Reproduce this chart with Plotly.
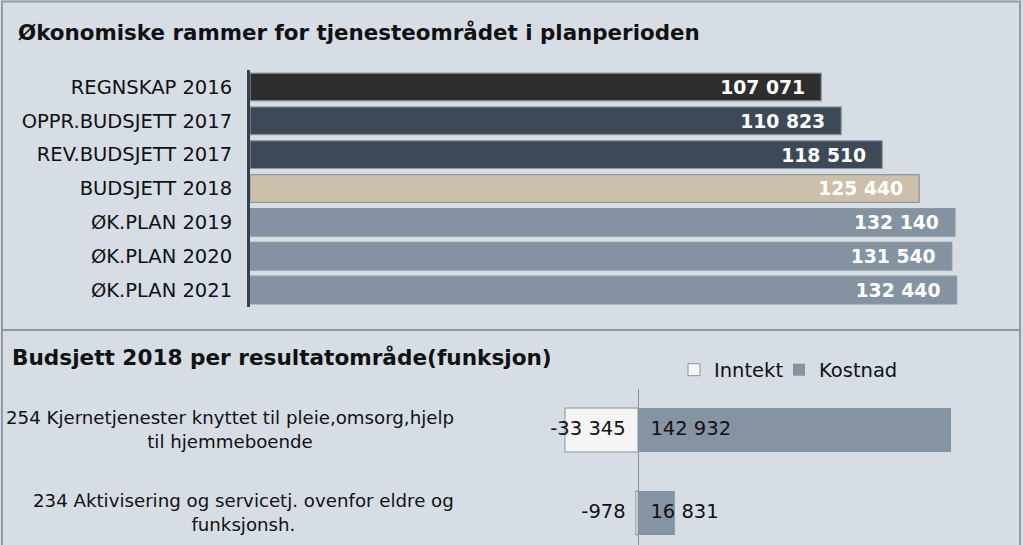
import plotly.graph_objects as go

# ---- data ----
top_categories = ["REGNSKAP 2016", "OPPR.BUDSJETT 2017", "REV.BUDSJETT 2017",
                  "BUDSJETT 2018", "ØK.PLAN 2019", "ØK.PLAN 2020", "ØK.PLAN 2021"]
top_values = [107071, 110823, 118510, 125440, 132140, 131540, 132440]
top_colors = ["#2e2e2e", "#3e4958", "#3e4958", "#cdc0aa", "#8592a2", "#8592a2", "#8592a2"]

bottom_categories = ["254 Kjernetjenester knyttet til pleie,omsorg,hjelp<br>til hjemmeboende",
                     "234 Aktivisering og servicetj. ovenfor eldre og<br>funksjonsh."]
inntekt = [-33345, -978]
kostnad = [142932, 16831]

W, H = 1023, 545
BG = "#d6dde5"
FONT = "DejaVu Sans"
TXT = "#111111"


def fmt(v):
    return f"{v:,}".replace(",", " ")


def px(x):
    return x / W


def py(y):
    return 1 - y / H


fig = go.Figure()

# top chart
fig.add_trace(go.Bar(
    x=top_values, y=top_categories, orientation="h",
    marker=dict(color=top_colors, line=dict(color="#8e979f", width=1.2)),
    width=0.82,
    text=[fmt(v) + "\u00a0\u00a0" for v in top_values],
    textposition="inside", insidetextanchor="end",
    textfont=dict(family=FONT, size=19, color="white", weight="bold"),
    showlegend=False, hoverinfo="skip",
    xaxis="x", yaxis="y",
))

# bottom chart
fig.add_trace(go.Bar(
    x=inntekt, y=bottom_categories, orientation="h", name="Inntekt",
    marker=dict(color="#f5f5f5", line=dict(color="#8a939c", width=1)),
    width=0.53, xaxis="x2", yaxis="y2", hoverinfo="skip", legend="legend",
))
fig.add_trace(go.Bar(
    x=kostnad, y=bottom_categories, orientation="h", name="Kostnad",
    marker=dict(color="#8593a3", line=dict(width=0)),
    width=0.53, xaxis="x2", yaxis="y2", hoverinfo="skip", legend="legend2",
))
fig.add_trace(go.Scatter(
    x=[0] * len(inntekt), y=bottom_categories, mode="text",
    text=[fmt(v) + "\u00a0\u00a0" for v in inntekt], textposition="middle left",
    textfont=dict(family=FONT, size=19.5, color=TXT),
    showlegend=False, hoverinfo="skip", xaxis="x2", yaxis="y2", cliponaxis=False,
))
fig.add_trace(go.Scatter(
    x=[0] * len(kostnad), y=bottom_categories, mode="text",
    text=["\u00a0\u00a0" + fmt(v) for v in kostnad], textposition="middle right",
    textfont=dict(family=FONT, size=19.5, color=TXT),
    showlegend=False, hoverinfo="skip", xaxis="x2", yaxis="y2", cliponaxis=False,
))

annotations = [
    dict(text="<b>Økonomiske rammer for tjenesteområdet i planperioden</b>",
         x=px(16), y=py(32), xref="paper", yref="paper", xanchor="left", yanchor="middle",
         showarrow=False, font=dict(family=FONT, size=21.4, color=TXT)),
    dict(text="<b>Budsjett 2018 per resultatområde(funksjon)</b>",
         x=px(10), y=py(357), xref="paper", yref="paper", xanchor="left", yanchor="middle",
         showarrow=False, font=dict(family=FONT, size=21.6, color=TXT)),
]
for lab in bottom_categories:
    annotations.append(dict(
        text=lab, x=px(456), y=lab, xref="paper", yref="y2",
        xanchor="right", yanchor="middle", align="center", showarrow=False,
        font=dict(family=FONT, size=18.2, color=TXT),
    ))

line_col = "#939ca5"
shapes = [
    dict(type="rect", xref="paper", yref="paper", x0=px(2), x1=px(1020), y0=py(546), y1=py(1.5),
         line=dict(color=line_col, width=2), fillcolor="rgba(0,0,0,0)"),
    dict(type="line", xref="paper", yref="paper", x0=px(2), x1=px(1020), y0=py(330), y1=py(330),
         line=dict(color="#8e979f", width=2)),
]

legend_common = dict(orientation="h", yanchor="middle", y=py(370), xanchor="left",
                     bgcolor="rgba(0,0,0,0)", font=dict(family=FONT, size=19.5, color=TXT),
                     itemwidth=30)

fig.update_layout(
    width=W, height=H,
    margin=dict(l=0, r=0, t=0, b=0),
    paper_bgcolor=BG, plot_bgcolor=BG,
    barmode="relative",
    font=dict(family=FONT, size=19.5, color=TXT),
    xaxis=dict(domain=[px(250), px(1010)], range=[0, 142455], visible=False, fixedrange=True),
    yaxis=dict(domain=[py(307), py(70)], range=[6.5, -0.5], type="category",
               showline=True, linecolor="#36414c", linewidth=3, showgrid=False,
               ticks="", ticklabelstandoff=11,
               tickfont=dict(family=FONT, size=19.5, color=TXT), anchor="x"),
    xaxis2=dict(domain=[px(540), px(1010)], range=[-44749, 169863], showticklabels=False,
                showgrid=False, zeroline=True, zerolinecolor="#8a939c", zerolinewidth=1,
                fixedrange=True, anchor="y2"),
    yaxis2=dict(domain=[0, py(388.5)], range=[1.386, -0.5], type="category",
                showticklabels=False, showgrid=False, showline=False, anchor="x2"),
    legend=dict(x=px(674), **legend_common),
    legend2=dict(x=px(779), **legend_common),
    annotations=annotations,
    shapes=shapes,
)

fig.write_html("out.html", config={"displayModeBar": False},
               post_script="document.body.style.margin='0';")
